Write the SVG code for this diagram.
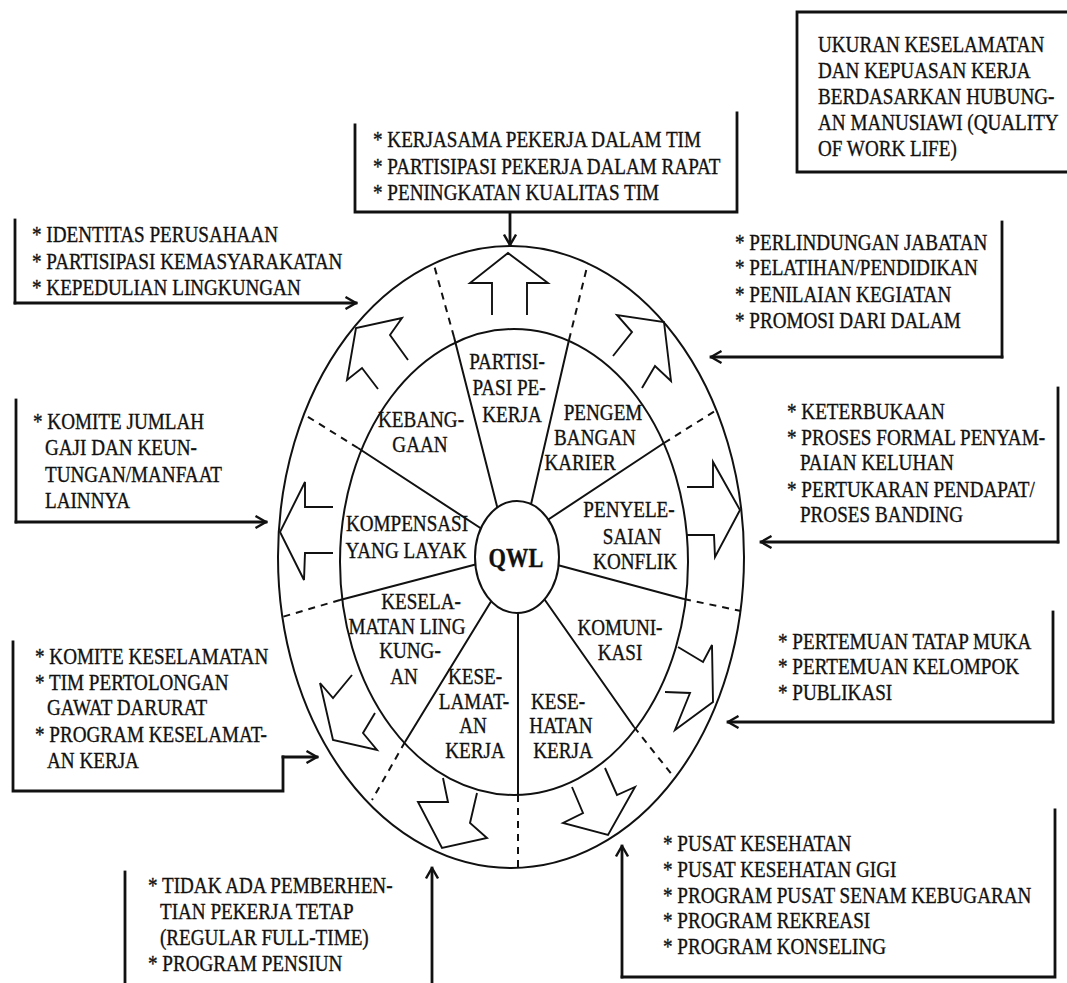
<svg xmlns="http://www.w3.org/2000/svg" width="1067" height="983" viewBox="0 0 1067 983">
<style>
.t{font-family:"Liberation Serif","Times New Roman",serif;font-size:23px;fill:#111;stroke:#111;stroke-width:.35px;transform-box:fill-box;transform-origin:0 50%;transform:scaleX(.832)}
.c{text-anchor:middle;transform-origin:50% 50%}
.q{font-weight:bold;font-size:28px;transform:scaleX(.8)}
.ln{fill:none;stroke:#111;stroke-width:2}
.bx{fill:none;stroke:#111;stroke-width:2.8;stroke-linecap:square}
.ds{fill:none;stroke:#111;stroke-width:2;stroke-dasharray:7 6}
.ar{fill:none;stroke:#111;stroke-width:1.9;stroke-linejoin:miter}
.cn{fill:none;stroke:#111;stroke-width:2.8;stroke-linecap:square;marker-end:url(#ah)}
</style>
<defs>
<marker id="ah" viewBox="0 0 14 14" refX="12.5" refY="7" markerWidth="14" markerHeight="14" markerUnits="userSpaceOnUse" orient="auto">
<path d="M2,1 L12.5,7 L2,13" fill="none" stroke="#111" stroke-width="2.4"/>
</marker>
</defs>
<rect x="0" y="0" width="1067" height="983" fill="#fff"/>

<g id="wheel">
<ellipse class="ln" cx="511" cy="557" rx="233" ry="311"/>
<ellipse class="ln" cx="514" cy="562" rx="174" ry="233"/>
<path class="ln" d="M500,518 L454,337 M529,513 L569,340 M540,525 L664,443 M550,563 L684,599 M540,593 L634,727 M518,600 L518,795 M495,595 L405,742 M485,562 L340,600 M488,533 L358,448"/>
<path class="ds" d="M454,337 L434,265 M569,340 L588,263 M664,443 L715,411 M684,599 L741,611 M634,727 L673,776 M518,795 L518,868 M405,742 L372,800 M340,600 L282,617 M358,448 L305,415"/>
</g>

<g id="qwl">
<ellipse cx="517" cy="557" rx="42" ry="56" fill="#fff" stroke="#111" stroke-width="2"/>
<text class="t c q" x="516" y="567">QWL</text>
</g>

<g id="partisipasi">
<text class="t c" x="507" y="369">PARTISI-</text>
<text class="t c" x="509" y="395">PASI PE-</text>
<text class="t c" x="512" y="422">KERJA</text>
<polyline class="ar" points="527,315 527,283 548,283 508,253 470,283 492,283 492,315"/>
</g>
<g id="pengembangan">
<text class="t c" x="603" y="420">PENGEM</text>
<text class="t c" x="595" y="445">BANGAN</text>
<text class="t c" x="580" y="470">KARIER</text>
<polyline class="ar" points="613,356 632,332 617,315 664,322 671,381 655,366 642,388"/>
</g>
<g id="penyelesaian">
<text class="t c" x="629" y="517">PENYELE-</text>
<text class="t c" x="632" y="544">SAIAN</text>
<text class="t c" x="635" y="569">KONFLIK</text>
<polyline class="ar" points="687,487 713,487 713,462 740,510 715,557 714,535 687,535"/>
</g>
<g id="komunikasi">
<text class="t c" x="620" y="635">KOMUNI-</text>
<text class="t c" x="620" y="660">KASI</text>
<polyline class="ar" points="678,647 703,662 712,645 713,702 675,730 690,693 665,692"/>
</g>
<g id="kesehatan">
<text class="t c" x="558" y="709">KESE-</text>
<text class="t c" x="561" y="733">HATAN</text>
<text class="t c" x="563" y="758">KERJA</text>
<polyline class="ar" points="572,787 583,813 563,823 608,835 635,787 617,795 605,768"/>
</g>
<g id="keselamatan-kerja">
<text class="t c" x="475" y="684">KESE-</text>
<text class="t c" x="474" y="709">LAMAT-</text>
<text class="t c" x="473" y="733">AN</text>
<text class="t c" x="475" y="758">KERJA</text>
<polyline class="ar" points="443,778 448,802 418,802 442,848 487,838 470,823 477,793"/>
</g>
<g id="keselamatan-lingkungan">
<text class="t c" x="421" y="609">KESELA-</text>
<text class="t c" x="407" y="634">MATAN LING</text>
<text class="t c" x="410" y="658">KUNG-</text>
<text class="t c" x="404" y="684">AN</text>
<polyline class="ar" points="352,675 333,698 320,683 333,740 377,750 363,733 375,713"/>
</g>
<g id="kompensasi">
<text class="t c" x="407" y="531">KOMPENSASI</text>
<text class="t c" x="406" y="558">YANG LAYAK</text>
<polyline class="ar" points="333,507 305,507 305,482 280,532 304,580 305,553 333,553"/>
</g>
<g id="kebanggaan">
<text class="t c" x="421" y="427">KEBANG-</text>
<text class="t c" x="420" y="452">GAAN</text>
<polyline class="ar" points="408,360 390,335 402,318 356,328 347,380 362,368 378,389"/>
</g>

<g id="box-title">
<path class="bx" d="M1067,12 H797 V172 H1067"/>
<text class="t" x="818" y="52">UKURAN KESELAMATAN</text>
<text class="t" x="818" y="78">DAN KEPUASAN KERJA</text>
<text class="t" x="818" y="104">BERDASARKAN HUBUNG-</text>
<text class="t" x="818" y="130">AN MANUSIAWI (QUALITY</text>
<text class="t" x="818" y="156">OF WORK LIFE)</text>
</g>

<g id="box-tim">
<path class="bx" d="M355,125 V212 H737 V113"/>
<text class="t" x="373" y="147">* KERJASAMA PEKERJA DALAM TIM</text>
<text class="t" x="373" y="174">* PARTISIPASI PEKERJA DALAM RAPAT</text>
<text class="t" x="373" y="200">* PENINGKATAN KUALITAS TIM</text>
</g>

<g id="box-identitas">
<path class="bx" d="M15,220 V303"/>
<text class="t" x="32" y="242">* IDENTITAS PERUSAHAAN</text>
<text class="t" x="32" y="269">* PARTISIPASI KEMASYARAKATAN</text>
<text class="t" x="32" y="295">* KEPEDULIAN LINGKUNGAN</text>
</g>

<g id="box-karier">
<path class="bx" d="M1002,222 V357"/>
<text class="t" x="735" y="250">* PERLINDUNGAN JABATAN</text>
<text class="t" x="735" y="275">* PELATIHAN/PENDIDIKAN</text>
<text class="t" x="735" y="302">* PENILAIAN KEGIATAN</text>
<text class="t" x="735" y="328">* PROMOSI DARI DALAM</text>
</g>

<g id="box-gaji">
<path class="bx" d="M16,400 V522"/>
<text class="t" x="33" y="429">* KOMITE JUMLAH</text>
<text class="t" x="45" y="455">GAJI DAN KEUN-</text>
<text class="t" x="45" y="482">TUNGAN/MANFAAT</text>
<text class="t" x="45" y="508">LAINNYA</text>
</g>

<g id="box-konflik">
<path class="bx" d="M1058,388 V542"/>
<text class="t" x="787" y="419">* KETERBUKAAN</text>
<text class="t" x="787" y="445">* PROSES FORMAL PENYAM-</text>
<text class="t" x="800" y="470">PAIAN KELUHAN</text>
<text class="t" x="787" y="497">* PERTUKARAN PENDAPAT/</text>
<text class="t" x="800" y="522">PROSES BANDING</text>
</g>

<g id="box-keselamatan">
<path class="bx" d="M13,642 V791 H283 V757"/>
<text class="t" x="35" y="664">* KOMITE KESELAMATAN</text>
<text class="t" x="35" y="690">* TIM PERTOLONGAN</text>
<text class="t" x="47" y="715">GAWAT DARURAT</text>
<text class="t" x="35" y="742">* PROGRAM KESELAMAT-</text>
<text class="t" x="47" y="768">AN KERJA</text>
</g>

<g id="box-komunikasi">
<path class="bx" d="M1053,612 V722"/>
<text class="t" x="778" y="649">* PERTEMUAN TATAP MUKA</text>
<text class="t" x="778" y="674">* PERTEMUAN KELOMPOK</text>
<text class="t" x="778" y="700">* PUBLIKASI</text>
</g>

<g id="box-pensiun">
<path class="bx" d="M125,872 V990"/>
<text class="t" x="148" y="893">* TIDAK ADA PEMBERHEN-</text>
<text class="t" x="160" y="919">TIAN PEKERJA TETAP</text>
<text class="t" x="160" y="945">(REGULAR FULL-TIME)</text>
<text class="t" x="148" y="971">* PROGRAM PENSIUN</text>
</g>

<g id="box-kesehatan">
<path class="bx" d="M1055,810 V977 H622"/>
<text class="t" x="663" y="851">* PUSAT KESEHATAN</text>
<text class="t" x="663" y="877">* PUSAT KESEHATAN GIGI</text>
<text class="t" x="663" y="903">* PROGRAM PUSAT SENAM KEBUGARAN</text>
<text class="t" x="663" y="928">* PROGRAM REKREASI</text>
<text class="t" x="663" y="954">* PROGRAM KONSELING</text>
</g>

<g id="connectors">
<path class="cn" d="M510,214 V245"/>
<path class="cn" d="M15,303 H356"/>
<path class="cn" d="M1002,357 H711"/>
<path class="cn" d="M16,522 H266"/>
<path class="cn" d="M1058,542 H761"/>
<path class="cn" d="M283,757 H317"/>
<path class="cn" d="M1053,722 H728"/>
<path class="cn" d="M432,990 V868"/>
<path class="cn" d="M622,977 V846"/>
</g>
</svg>
